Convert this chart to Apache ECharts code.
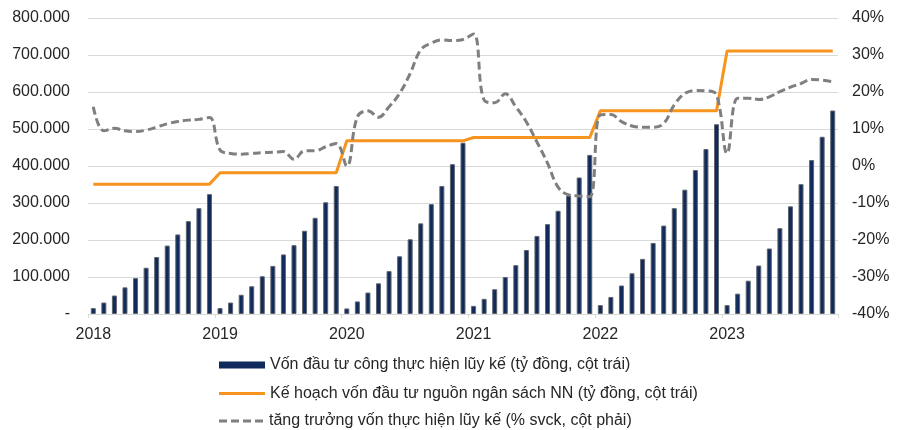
<!DOCTYPE html>
<html>
<head>
<meta charset="utf-8">
<script src="https://cdn.jsdelivr.net/npm/echarts@6/dist/echarts.min.js"></script>
<style>
html,body{margin:0;padding:0;background:#fff;}
#chart{width:903px;height:430px;}
</style>
</head>
<body>
<div id="chart"></div>
<script>
var years = ['2018', '2019', '2020', '2021', '2022', '2023'];
var monthsPerYear = [12, 12, 12, 12, 12, 11];

var seriesNames = [
  'Vốn đầu tư công thực hiện lũy kế (tỷ đồng, cột trái)',
  'Kế hoạch vốn đầu tư nguồn ngân sách NN (tỷ đồng, cột trái)',
  'tăng trưởng vốn thực hiện lũy kế (% svck, cột phải)'
];

// Cumulative disbursed public investment (tỷ đồng), monthly
var disbursed = [
  16000, 31000, 50000, 72000, 97000, 125000, 154000, 185000, 215000, 251000, 286000, 324000,
  16000, 31000, 52000, 75000, 102000, 130000, 161000, 186000, 225000, 260000, 302000, 346000,
  15000, 34000, 58000, 83000, 116000, 156000, 202000, 245000, 297000, 346000, 405000, 463000,
  22000, 41000, 67000, 100000, 132000, 173000, 211000, 243000, 279000, 320000, 369000, 430000,
  24000, 46000, 77000, 110000, 149000, 192000, 239000, 286000, 336000, 389000, 446000, 513000,
  24000, 55000, 90000, 131000, 177000, 232000, 291000, 351000, 416000, 479000, 550000
];

// State budget investment plan (tỷ đồng), monthly
var plan = [
  351000, 351000, 351000, 351000, 351000, 351000, 351000, 351000, 351000, 351000, 351000, 351000,
  382000, 382000, 382000, 382000, 382000, 382000, 382000, 382000, 382000, 382000, 382000, 382000,
  468000, 468000, 468000, 468000, 468000, 468000, 468000, 468000, 468000, 468000, 468000, 468000,
  477000, 477000, 477000, 477000, 477000, 477000, 477000, 477000, 477000, 477000, 477000, 477000,
  549000, 549000, 549000, 549000, 549000, 549000, 549000, 549000, 549000, 549000, 549000, 549000,
  711000, 711000, 711000, 711000, 711000, 711000, 711000, 711000, 711000, 711000, 711000
];

// YoY growth of cumulative disbursement (%), monthly
var growth = [
  16.0, 9.5, 10.2, 9.5, 9.3, 9.7, 10.5, 11.4, 12.0, 12.4, 12.6, 13.1,
  4.3, 3.4, 3.2, 3.4, 3.6, 3.7, 3.9, 1.8, 4.1, 4.1, 5.2, 6.1,
  0.0, 13.3, 14.9, 13.2, 16.0, 19.6, 25.0, 31.4, 33.2, 34.1, 33.9, 34.2,
  35.7, 17.8, 17.1, 19.5, 16.0, 11.9, 6.5, 0.8, -5.7, -7.8, -8.1, -8.3,
  13.8, 13.9, 12.0, 10.8, 10.5, 10.5, 11.5, 16.5, 19.6, 20.4, 20.3, 19.2,
  3.4, 18.3, 18.3, 18.0, 18.7, 20.1, 21.3, 22.3, 23.4, 23.2, 22.8
];

var categories = [];
for (var y = 0; y < years.length; y++) {
  for (var m = 1; m <= monthsPerYear[y]; m++) {
    categories.push((m < 10 ? '0' + m : '' + m) + '/' + years[y]);
  }
}

function fmtThousands(v) {
  if (v === 0) return '-';
  return String(v).replace(/\B(?=(\d{3})+(?!\d))/g, '.');
}

var FONT = '"Liberation Sans", Arial, sans-serif';
var TXT = '#262626';
var NAVY = '#112a5c';
var ORANGE = '#f7941d';
var GREY = '#7f7f7f';

function legendRow(name, top, icon, h, color) {
  return {
    orient: 'vertical', left: 214, top: top,
    itemWidth: 46, itemHeight: h, itemGap: 0,
    selectedMode: false,
    textStyle: {fontFamily: FONT, fontSize: 16, color: TXT},
    data: [{name: name, icon: icon, itemStyle: {color: color, borderWidth: 0, opacity: 1}}]
  };
}

var chart = echarts.init(document.getElementById('chart'), null, {renderer: 'canvas'});
chart.setOption({
  animation: false,
  backgroundColor: '#ffffff',
  textStyle: {fontFamily: FONT},
  grid: {left: 88, right: 65, top: 18, bottom: 116, containLabel: false},
  legend: [
    legendRow(seriesNames[0], 352, 'rect', 7, NAVY),
    legendRow(seriesNames[1], 380.5, 'rect', 3, ORANGE),
    legendRow(seriesNames[2], 408, 'path://M0,0h8v3h-8z M12,0h8v3h-8z M24,0h8v3h-8z M36,0h8v3h-8z', 3, GREY)
  ],
  xAxis: {
    type: 'category',
    data: categories,
    boundaryGap: true,
    axisLine: {show: true, lineStyle: {color: '#d9d9d9', width: 1}},
    axisTick: {show: true, length: 4, lineStyle: {color: '#d9d9d9'},
      interval: function (i) { return i % 12 === 0; }},
    axisLabel: {
      interval: function (i) { return i % 12 === 0; },
      formatter: function (v) { return v.split('/')[1]; },
      fontFamily: FONT, fontSize: 16, color: TXT, margin: 13
    },
    splitLine: {show: false}
  },
  yAxis: [
    {
      type: 'value', min: 0, max: 800000, interval: 100000,
      axisLine: {show: false}, axisTick: {show: false},
      axisLabel: {formatter: fmtThousands, fontFamily: FONT, fontSize: 16, color: TXT, margin: 18},
      splitLine: {show: true, lineStyle: {color: '#d9d9d9', width: 1}}
    },
    {
      type: 'value', min: -40, max: 40, interval: 10,
      axisLine: {show: false}, axisTick: {show: false},
      axisLabel: {formatter: function (v) { return v + '%'; }, fontFamily: FONT, fontSize: 16, color: TXT, margin: 14},
      splitLine: {show: false}
    }
  ],
  series: [
    {
      name: seriesNames[0], type: 'bar', yAxisIndex: 0, data: disbursed,
      barWidth: 5,
      itemStyle: {color: NAVY, borderColor: '#5f6670', borderWidth: 1}
    },
    {
      name: seriesNames[1], type: 'line', yAxisIndex: 0, data: plan,
      symbol: 'none', showSymbol: false,
      lineStyle: {color: ORANGE, width: 3},
      itemStyle: {color: ORANGE}
    },
    {
      name: seriesNames[2], type: 'line', yAxisIndex: 1, data: growth,
      symbol: 'none', showSymbol: false, smooth: 0.4,
      lineStyle: {color: GREY, width: 3, type: [8, 4]},
      itemStyle: {color: GREY}
    }
  ]
});
</script>
</body>
</html>
